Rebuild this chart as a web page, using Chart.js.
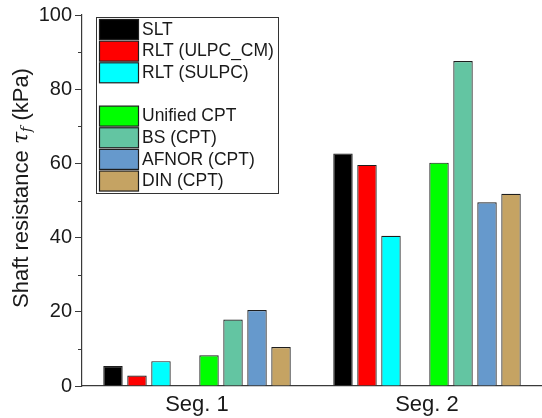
<!DOCTYPE html>
<html>
<head>
<meta charset="utf-8">
<script src="https://cdn.jsdelivr.net/npm/chart.js@4.4.1/dist/chart.umd.min.js"></script>
<style>
  html, body { margin: 0; padding: 0; background: #fff; }
  #wrap { width: 542px; height: 418px; }
</style>
</head>
<body>
<div id="wrap"><canvas id="shaft-chart" width="542" height="418"></canvas></div>
<script>
// categories and series values (kPa)
const categories = ['Seg. 1', 'Seg. 2'];
const series_names = ['SLT', 'RLT (ULPC_CM)', 'RLT (SULPC)', '', 'Unified CPT', 'BS (CPT)', 'AFNOR (CPT)', 'DIN (CPT)'];
const slt = [5.4, 62.7];
const rlt_ulpc_cm = [2.8, 59.6];
const rlt_sulpc = [6.7, 40.5];
const spacer = [null, null];
const unified_cpt = [8.3, 60.2];
const bs_cpt = [17.9, 87.6];
const afnor_cpt = [20.5, 49.5];
const din_cpt = [10.5, 51.8];
const y_ticks = [0, 20, 40, 60, 80, 100];
const y_minor = [10, 30, 50, 70, 90];

const series_values = [slt, rlt_ulpc_cm, rlt_sulpc, spacer, unified_cpt, bs_cpt, afnor_cpt, din_cpt];
const series_colors = ['#000000', '#ff0000', '#00ffff', 'rgba(0,0,0,0)', '#00ff00', '#63c5a2', '#6699cc', '#c5a363'];

const font_family = '"Liberation Sans", Arial, sans-serif';
const text_color = '#1a1a1a';
const axis_color = '#3a3a3a';

let datasets = series_values.map((vals, i) => ({
    label: series_names[i],
    data: vals,
    backgroundColor: series_colors[i],
    borderColor: series_names[i] === '' ? 'rgba(0,0,0,0)' : '#1e1e1e',
    borderWidth: series_names[i] === '' ? 0 : 1.2,
    categoryPercentage: 0.835,
    barPercentage: 0.81
}));

// legend box drawn inside the plot
const inner_legend = {
    id: 'innerLegend',
    afterDraw(chart) {
        const ctx = chart.ctx;
        const x0 = 96, y0 = 17, w = 182, h = 176;
        ctx.save();
        ctx.fillStyle = '#fff';
        ctx.fillRect(x0, y0, w, h);
        ctx.strokeStyle = '#333';
        ctx.lineWidth = 1;
        ctx.strokeRect(x0 + 0.5, y0 + 0.5, w, h);
        ctx.font = '17.5px ' + font_family;
        ctx.textBaseline = 'middle';
        ctx.textAlign = 'left';
        chart.data.datasets.forEach((ds, i) => {
            const top = 19.5 + i * 21.65;
            if (ds.label === '') return;
            ctx.fillStyle = ds.backgroundColor;
            ctx.fillRect(99.5, top, 39, 20);
            ctx.strokeStyle = '#1e1e1e';
            ctx.lineWidth = 1.2;
            ctx.strokeRect(99.5, top, 39, 20);
            ctx.fillStyle = text_color;
            ctx.fillText(ds.label, 142, top + 10.5);
        });
        ctx.restore();
    }
};

// y title with italic tau and subscript f, plus minor ticks
const axis_extras = {
    id: 'axisExtras',
    afterDraw(chart) {
        const ctx = chart.ctx;
        const y = chart.scales.y;
        const left = chart.chartArea.left;
        ctx.save();
        ctx.strokeStyle = axis_color;
        ctx.lineWidth = 1;
        y_minor.forEach(v => {
            const py = Math.round(y.getPixelForValue(v)) + 0.5;
            ctx.beginPath();
            ctx.moveTo(left - 4, py);
            ctx.lineTo(left, py);
            ctx.stroke();
        });

        const parts = [
            { t: 'Shaft resistance ', f: '22px ' + font_family, dy: 0 },
            { t: 'τ', f: 'italic 22px "DejaVu Serif", serif', dy: 0 },
            { t: 'f', f: 'italic 14px "DejaVu Serif", serif', dy: 5 },
            { t: ' (kPa)', f: '22px ' + font_family, dy: 0 }
        ];
        let total = 0;
        parts.forEach(p => { ctx.font = p.f; p.w = ctx.measureText(p.t).width; total += p.w; });
        ctx.translate(22, 188);
        ctx.rotate(-Math.PI / 2);
        ctx.fillStyle = text_color;
        ctx.textBaseline = 'middle';
        let x = -total / 2;
        parts.forEach(p => {
            ctx.font = p.f;
            ctx.fillText(p.t, x, p.dy);
            x += p.w;
        });
        ctx.restore();
    }
};

let shaft_chart = new Chart(document.getElementById('shaft-chart').getContext('2d'), {
    type: 'bar',
    data: {
        labels: categories,
        datasets: datasets
    },
    options: {
        responsive: false,
        animation: false,
        layout: { padding: { top: 6, right: 0, bottom: 0, left: 0 } },
        plugins: {
            legend: { display: false },
            tooltip: { enabled: false }
        },
        scales: {
            x: {
                grid: { display: false, drawTicks: false, tickLength: 0 },
                border: { display: true, color: axis_color, width: 1.2 },
                ticks: { color: text_color, font: { family: font_family, size: 22 }, padding: 6 },
                afterFit(scale) { scale.height = 32; }
            },
            y: {
                min: 0,
                max: 100,
                afterBuildTicks(scale) { scale.ticks = y_ticks.map(v => ({ value: v })); },
                grid: { drawOnChartArea: false, tickLength: 7, color: axis_color, tickColor: axis_color },
                border: { display: true, color: axis_color, width: 1.2 },
                ticks: { color: text_color, font: { family: font_family, size: 20 }, padding: 3 },
                afterFit(scale) { scale.width = 82; }
            }
        }
    },
    plugins: [inner_legend, axis_extras]
});
</script>
</body>
</html>
